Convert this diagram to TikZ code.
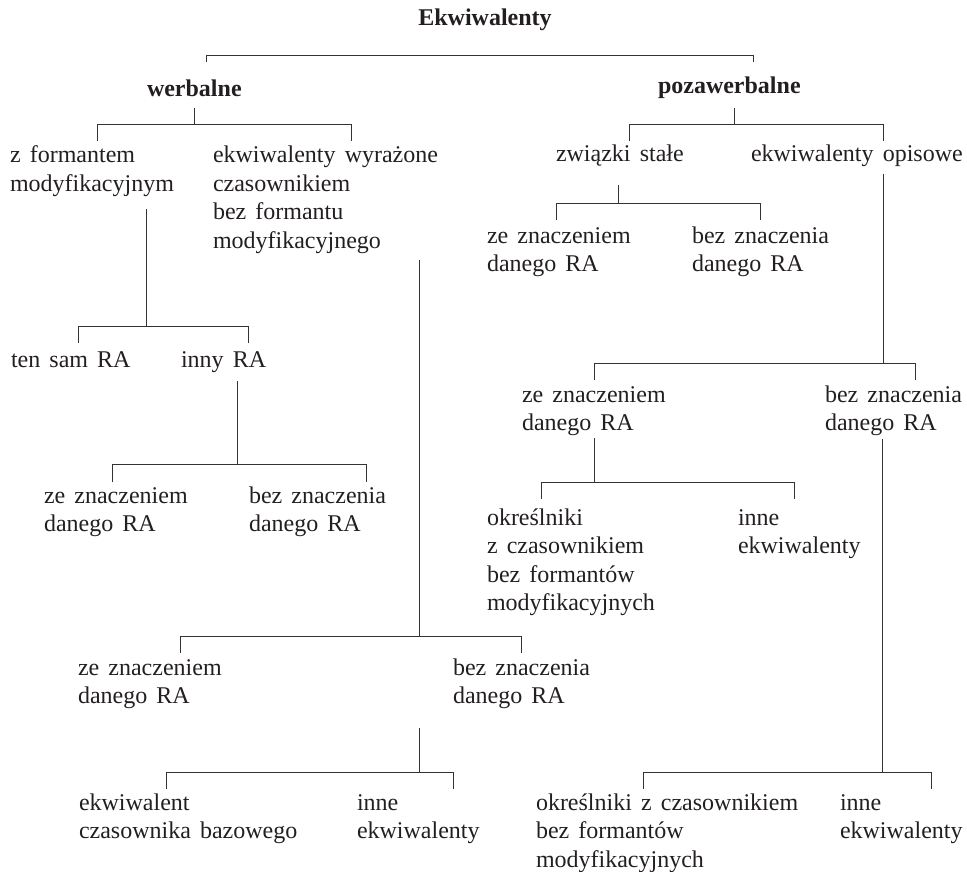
\documentclass[tikz,border=0pt]{standalone}
\usepackage{fontspec}
\setmainfont{Liberation Serif}
\definecolor{ink}{HTML}{231F20}
\definecolor{wire}{HTML}{333333}
\newcommand\mlines[1]{\vtop{\spaceskip=0.38em\relax\halign{##\hfil\cr#1\crcr}}}
\begin{document}
\begin{tikzpicture}[x=1pt,y=-1pt,
  lbl/.style={anchor=base west,inner sep=0pt,outer sep=0pt,text=ink,
    font=\fontsize{24}{28.5}\selectfont},
  head/.style={lbl,font=\fontsize{24}{28.5}\selectfont\bfseries},
  wires/.style={draw=wire,line width=0.9pt}]
\useasboundingbox (0,0) rectangle (967,872);
% labels
\node[head,anchor=base] (title) at (485,26) {Ekwiwalenty};
\node[head] (werb) at (147,97) {werbalne};
\node[head] (poza) at (658,94) {pozawerbalne};
\node[lbl] (zform) at (10,163) {\mlines{z formantem\cr modyfikacyjnym}};
\node[lbl] (ekwwyr) at (213,163) {\mlines{ekwiwalenty wyrażone\cr czasownikiem\cr bez formantu\cr modyfikacyjnego}};
\node[lbl] (tensam) at (11,367) {\mlines{ten sam RA}};
\node[lbl] (inny) at (181,367) {\mlines{inny RA}};
\node[lbl] (zeA) at (44,503) {\mlines{ze znaczeniem\cr danego RA}};
\node[lbl] (bezA) at (249,503) {\mlines{bez znaczenia\cr danego RA}};
\node[lbl] (zeB) at (78,675) {\mlines{ze znaczeniem\cr danego RA}};
\node[lbl] (bezB) at (453,675) {\mlines{bez znaczenia\cr danego RA}};
\node[lbl] (ekwbaz) at (79,810) {\mlines{ekwiwalent\cr czasownika bazowego}};
\node[lbl] (inneB) at (357,810) {\mlines{inne\cr ekwiwalenty}};
\node[lbl] (zwiazki) at (556,162) {\mlines{związki stałe}};
\node[lbl] (opis) at (751,162) {\mlines{ekwiwalenty opisowe}};
\node[lbl] (zeC) at (487,243) {\mlines{ze znaczeniem\cr danego RA}};
\node[lbl] (bezC) at (692,243) {\mlines{bez znaczenia\cr danego RA}};
\node[lbl] (zeD) at (522,402) {\mlines{ze znaczeniem\cr danego RA}};
\node[lbl] (bezD) at (825,402) {\mlines{bez znaczenia\cr danego RA}};
\node[lbl] (okr1) at (487,525) {\mlines{określniki\cr z czasownikiem\cr bez formantów\cr modyfikacyjnych}};
\node[lbl] (inneD) at (738,525) {\mlines{inne\cr ekwiwalenty}};
\node[lbl] (okr2) at (536,810) {\mlines{określniki z czasownikiem\cr bez formantów\cr modyfikacyjnych}};
\node[lbl] (inneE) at (840,810) {\mlines{inne\cr ekwiwalenty}};
% brackets: stem top S, horizontal H, drop ends L and R
\coordinate (aH) at (0,55);   \coordinate (aL) at (206,62); \coordinate (aR) at (753,62);
\coordinate (bS) at (194,108); \coordinate (bH) at (0,124); \coordinate (bL) at (97,141); \coordinate (bR) at (351,141);
\coordinate (cS) at (146,209); \coordinate (cH) at (0,326); \coordinate (cL) at (78,343); \coordinate (cR) at (248,343);
\coordinate (dS) at (237,381); \coordinate (dH) at (0,464); \coordinate (dL) at (112,482); \coordinate (dR) at (366,482);
\coordinate (eS) at (419,260); \coordinate (eH) at (0,636); \coordinate (eL) at (180,653); \coordinate (eR) at (521,653);
\coordinate (fS) at (419,728); \coordinate (fH) at (0,772); \coordinate (fL) at (166,789); \coordinate (fR) at (453,789);
\coordinate (gS) at (734,108); \coordinate (gH) at (0,124); \coordinate (gL) at (629,141); \coordinate (gR) at (883,141);
\coordinate (hS) at (618,185); \coordinate (hH) at (0,203); \coordinate (hL) at (556,220); \coordinate (hR) at (760,220);
\coordinate (iS) at (883,174); \coordinate (iH) at (0,363); \coordinate (iL) at (594,380); \coordinate (iR) at (915,380);
\coordinate (jS) at (594,438); \coordinate (jH) at (0,482); \coordinate (jL) at (541,499); \coordinate (jR) at (794,499);
\coordinate (kS) at (882,439); \coordinate (kH) at (0,772); \coordinate (kL) at (643,789); \coordinate (kR) at (931,789);
\draw[wires] (aL) -- (aL |- aH) -- (aR |- aH) -- (aR);
\foreach \b in {b,c,d,e,f,g,h,i,j,k}{
  \draw[wires] (\b L) -- (\b L |- \b H) -- (\b R |- \b H) -- (\b R);
  \draw[wires] (\b S) -- (\b S |- \b H);
}
\end{tikzpicture}
\end{document}
